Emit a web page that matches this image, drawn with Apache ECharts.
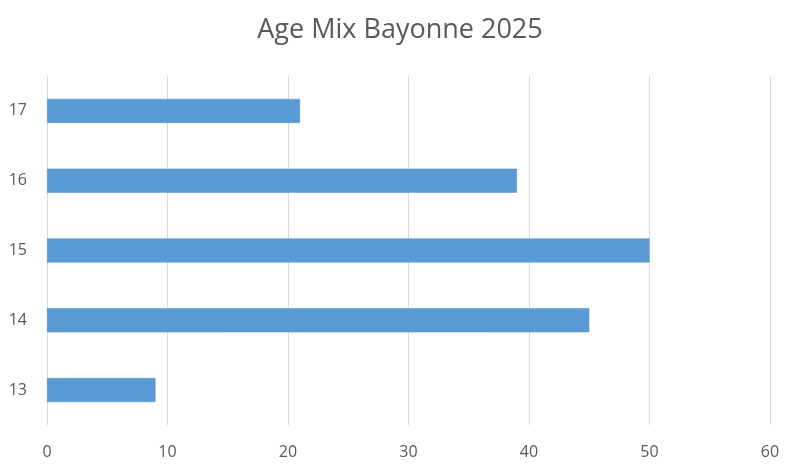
<!DOCTYPE html>
<html>
<head>
<meta charset="utf-8">
<script src="https://cdn.jsdelivr.net/npm/echarts@6/dist/echarts.min.js"></script>
<style>html,body{margin:0;padding:0;background:#fff}#c{width:800px;height:472px}</style>
</head>
<body>
<div id="c"></div>
<script>
var categories = ['13', '14', '15', '16', '17'];
var values = [9, 45, 50, 39, 21];
var chartTitle = 'Age Mix Bayonne 2025';

var chart = echarts.init(document.getElementById('c'), null, {renderer: 'canvas'});
chart.setOption({
  animation: false,
  backgroundColor: '#ffffff',
  title: {
    text: chartTitle,
    left: 'center',
    top: 12,
    textStyle: {fontFamily: 'Open Sans', fontSize: 27, fontWeight: 'normal', color: '#595959'}
  },
  grid: {left: 47, right: 30, top: 76, bottom: 47, containLabel: false},
  xAxis: {
    type: 'value',
    min: 0, max: 60, interval: 10,
    axisLine: {show: false},
    axisTick: {show: false},
    splitLine: {show: true, lineStyle: {color: '#d9d9d9', width: 1}},
    axisLabel: {fontFamily: 'Open Sans', fontSize: 16, color: '#595959', margin: 19}
  },
  yAxis: {
    type: 'category',
    data: categories,
    axisLine: {show: false},
    axisTick: {show: false},
    splitLine: {show: false},
    axisLabel: {fontFamily: 'Open Sans', fontSize: 16, color: '#595959', margin: 20}
  },
  series: [{
    type: 'bar',
    data: values,
    barWidth: 24,
    itemStyle: {color: '#5b9bd5', borderColor: '#4f8fca', borderWidth: 0.5}
  }]
});
</script>
</body>
</html>
